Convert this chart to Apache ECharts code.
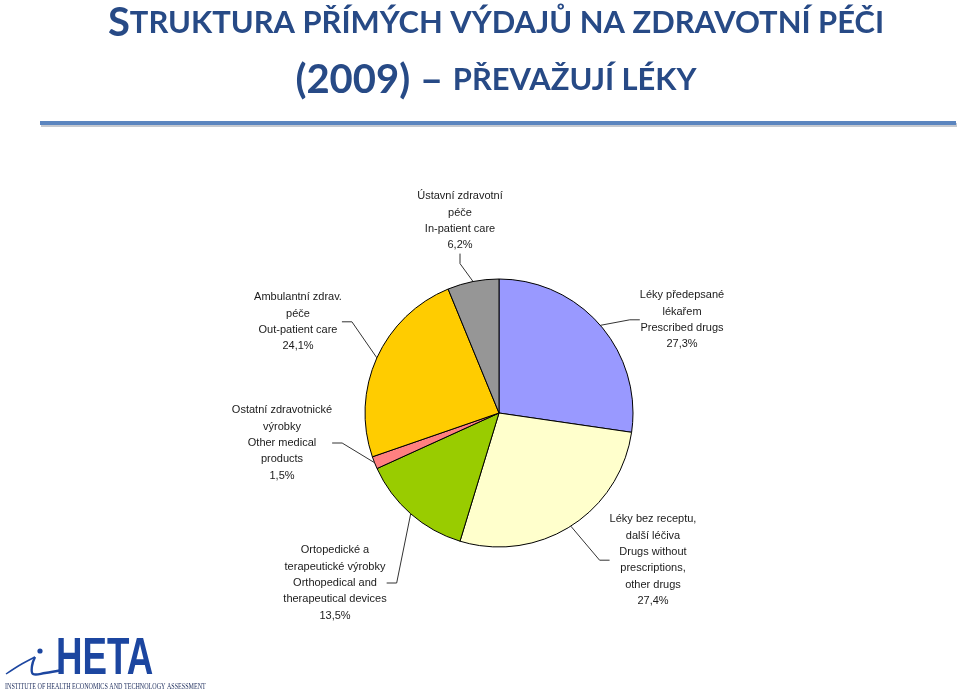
<!DOCTYPE html>
<html><head><meta charset="utf-8">
<script src="https://cdn.jsdelivr.net/npm/echarts@6/dist/echarts.min.js"></script>
<style>html,body{margin:0;padding:0;background:#fff}#c{width:960px;height:696px}</style>
</head><body><div id="c"></div>
<script>
// Data
const categories = [
  'Léky předepsané\nlékařem\nPrescribed drugs',
  'Léky bez receptu,\ndalší léčiva\nDrugs without\nprescriptions,\nother drugs',
  'Ortopedické a\nterapeutické výrobky\nOrthopedical and\ntherapeutical devices',
  'Ostatní zdravotnické\nvýrobky\nOther medical\nproducts',
  'Ambulantní zdrav.\npéče\nOut-patient care',
  'Ústavní zdravotní\npéče\nIn-patient care'
];
const values = [27.3, 27.4, 13.5, 1.5, 24.1, 6.2];
const colors = ['#9999FF', '#FFFFCC', '#99CC00', '#FF8080', '#FFCC00', '#969696'];
// label placement (center x, top y)
const labelPos = [[682, 287], [653, 511], [335, 542], [282, 402], [298, 289], [460, 188]];

const chart = echarts.init(document.getElementById('c'));
const option = {
  animation: false,
  title: {
    left: 491, top: -10, textAlign: 'center',
    text: '{b|S}{s|TRUKTURA PŘÍMÝCH VÝDAJŮ NA ZDRAVOTNÍ PÉČI}\n{b|(2009) – }{s|PŘEVAŽUJÍ LÉKY}',
    textStyle: {
      rich: {
        b: {fontFamily: 'Lato', fontWeight: 'bold', fontSize: 40, color: '#274a86', lineHeight: 57},
        s: {fontFamily: 'Lato', fontWeight: 'bold', fontSize: 30.9, color: '#274a86', lineHeight: 57}
      }
    }
  },
  graphic: [
    {type: 'rect', shape: {x: 41, y: 123, width: 916, height: 4}, style: {fill: '#c5c9d0'}},
    {type: 'rect', shape: {x: 40, y: 121, width: 916, height: 4}, style: {fill: '#5b85bf'}},
    {type: 'text', x: 56, y: 634, scaleX: 0.72, style: {text: 'HETA', font: 'bold 51px "Liberation Sans"', fill: '#1c46a0'}},
    {type: 'circle', shape: {cx: 40, cy: 651, r: 2.6}, style: {fill: '#1c46a0'}},
    {type: 'polyline', shape: {points: [[6, 674], [20, 665], [35, 657]], smooth: 0.3}, style: {stroke: '#1c46a0', lineWidth: 1.5, fill: null}},
    {type: 'polyline', shape: {points: [[35, 657], [32, 666], [33, 674], [45, 673], [62, 670]], smooth: 0.4}, style: {stroke: '#1c46a0', lineWidth: 2.4, fill: null}},
    {type: 'text', x: 5, y: 682, scaleX: 0.69, style: {text: 'INSTITUTE OF HEALTH ECONOMICS AND TECHNOLOGY ASSESSMENT', font: '8.8px "Liberation Serif"', fill: '#1a2a5a'}}
  ],
  series: [{
    type: 'pie',
    center: [499, 413],
    radius: 134,
    startAngle: 90,
    clockwise: true,
    data: categories.map((n, i) => ({name: n, value: values[i], itemStyle: {color: colors[i]}})),
    itemStyle: {borderColor: '#000', borderWidth: 1},
    label: {
      show: true,
      formatter: p => p.name + '\n' + p.value.toFixed(1).replace('.', ',') + '%',
      fontFamily: '"Liberation Sans", Arial',
      fontSize: 11, lineHeight: 16.4, color: '#1a1a1a', align: 'center'
    },
    labelLine: {show: true, length: 20, length2: 10, lineStyle: {color: '#333', width: 1}},
    labelLayout: p => ({x: labelPos[p.dataIndex][0], y: labelPos[p.dataIndex][1], align: 'center', verticalAlign: 'top'})
  }]
};
chart.setOption(option);
</script></body></html>
